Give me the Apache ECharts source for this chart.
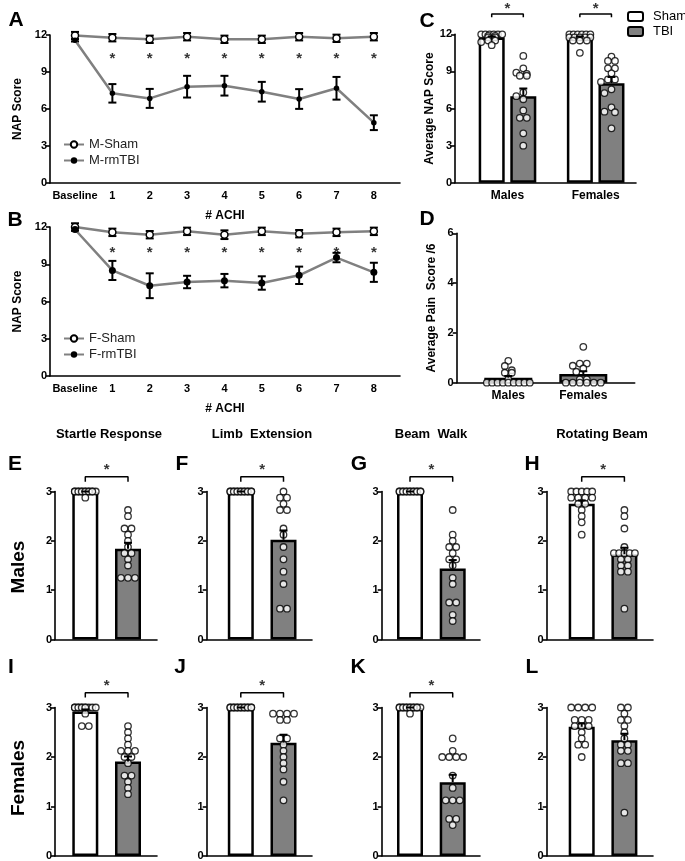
<!DOCTYPE html>
<html>
<head>
<meta charset="utf-8">
<script src="https://cdn.jsdelivr.net/npm/echarts@6/dist/echarts.min.js"></script>
<style>
  html, body { margin: 0; padding: 0; background: #fff; }
  #chart { width: 685px; height: 861px; }
</style>
</head>
<body>
<div id="chart"></div>
<script>
// ---------- data: NAP time course (A, B) ----------
const achi = ['Baseline', '1', '2', '3', '4', '5', '6', '7', '8'];
const mShamMean = [11.95, 11.78, 11.65, 11.86, 11.65, 11.65, 11.86, 11.73, 11.86];
const mShamSem = [0.3, 0.3, 0.3, 0.3, 0.3, 0.3, 0.3, 0.3, 0.3];
const mTbiMean = [11.57, 7.27, 6.86, 7.81, 7.89, 7.4, 6.81, 7.68, 4.89];
const mTbiSem = [0.1, 0.75, 0.77, 0.88, 0.8, 0.8, 0.8, 0.92, 0.6];
const fShamMean = [12.0, 11.57, 11.38, 11.65, 11.38, 11.65, 11.46, 11.57, 11.65];
const fShamSem = [0.3, 0.3, 0.3, 0.3, 0.35, 0.3, 0.3, 0.3, 0.3];
const fTbiMean = [11.8, 8.5, 7.27, 7.57, 7.68, 7.49, 8.11, 9.54, 8.35];
const fTbiSem = [0.1, 0.77, 1.0, 0.5, 0.54, 0.54, 0.7, 0.38, 0.77];
const achiSig = [1, 2, 3, 4, 5, 6, 7, 8];

// ---------- data: average NAP (C) ----------
const cShamM = [12, 12, 12, 12, 12, 12, 11.875, 11.875, 11.75, 11.75, 11.5, 11.5, 11.375, 11.125];
const cTbiM = [10.25, 9.25, 8.9, 8.8, 8.65, 8.65, 7.3, 7.0, 6.75, 5.85, 5.25, 5.25, 4.0, 3.0];
const cShamF = [12, 12, 12, 12, 12, 12, 11.75, 11.75, 11.75, 11.75, 11.75, 11.5, 11.5, 11.5, 10.5];
const cTbiF = [10.2, 9.85, 9.85, 9.25, 9.25, 8.85, 8.35, 8.35, 8.15, 7.55, 7.25, 6.1, 5.75, 5.7, 4.4];
const cMean = [11.75, 7.0, 11.72, 8.05];   // M-Sham, M-TBI, F-Sham, F-TBI
const cSem = [0.08, 0.62, 0.1, 0.5];

// ---------- data: pain score (D) ----------
const dMales = [0, 0, 0, 0, 0, 0, 0, 0, 0, 0.13, 0.4, 0.4, 0.5, 0.67, 0.88];
const dFemales = [0, 0, 0, 0, 0, 0, 0.13, 0.13, 0.44, 0.57, 0.68, 0.77, 0.77, 1.44];
const dMean = [0.2, 0.35];
const dSem = [0.07, 0.11];

// ---------- data: subscores (E-L), order: startle, limb, beam walk, rotating beam ----------
const startleShamM = [3, 3, 3, 3, 3, 3, 3, 3, 3, 3, 3, 3, 3, 2.875];
const startleTbiM = [2.625, 2.5, 2.25, 2.25, 2.125, 2, 1.875, 1.75, 1.75, 1.625, 1.5, 1.25, 1.25, 1.25];
const limbShamM = [3, 3, 3, 3, 3, 3, 3, 3, 3, 3, 3, 3, 3, 3];
const limbTbiM = [3, 2.875, 2.875, 2.75, 2.625, 2.625, 2.25, 2.125, 1.875, 1.625, 1.375, 1.125, 0.625, 0.625];
const beamShamM = [3, 3, 3, 3, 3, 3, 3, 3, 3, 3, 3, 3, 3, 3];
const beamTbiM = [2.625, 2.125, 2, 1.875, 1.875, 1.75, 1.625, 1.625, 1.5, 1.25, 1.125, 0.75, 0.75, 0.5, 0.375];
const rotShamM = [3, 3, 3, 3, 3, 2.875, 2.875, 2.875, 2.875, 2.75, 2.75, 2.625, 2.5, 2.375, 2.125];
const rotTbiM = [2.625, 2.5, 2.25, 1.875, 1.75, 1.75, 1.75, 1.75, 1.75, 1.625, 1.625, 1.5, 1.5, 1.375, 1.375, 0.625];

const startleShamF = [3, 3, 3, 3, 3, 3, 3, 3, 3, 3, 3, 2.875, 2.625, 2.625];
const startleTbiF = [2.625, 2.5, 2.375, 2.25, 2.125, 2.125, 2.125, 2, 2, 1.875, 1.625, 1.625, 1.5, 1.375, 1.25];
const limbShamF = [3, 3, 3, 3, 3, 3, 3, 3, 3, 3, 3, 3, 3, 3];
const limbTbiF = [2.875, 2.875, 2.875, 2.875, 2.75, 2.75, 2.375, 2.375, 2.25, 2.125, 2, 1.875, 1.75, 1.5, 1.125];
const beamShamF = [3, 3, 3, 3, 3, 3, 3, 3, 3, 3, 3, 3, 3, 2.875];
const beamTbiF = [2.375, 2.125, 2, 2, 2, 2, 1.625, 1.375, 1.125, 1.125, 1.125, 0.75, 0.75, 0.625];
const rotShamF = [3, 3, 3, 3, 2.75, 2.75, 2.75, 2.625, 2.625, 2.625, 2.5, 2.375, 2.25, 2.25, 2];
const rotTbiF = [3, 3, 2.875, 2.75, 2.75, 2.625, 2.5, 2.375, 2.25, 2.25, 2.125, 2.125, 1.875, 1.875, 0.875];

const maleShamMean = [2.99, 3.0, 3.0, 2.75];
const maleTbiMean = [1.84, 2.02, 1.44, 1.73];
const femaleShamMean = [2.92, 3.0, 2.99, 2.61];
const femaleTbiMean = [1.91, 2.29, 1.49, 2.34];
const maleShamSem = [0.01, 0, 0, 0.07];
const maleTbiSem = [0.12, 0.19, 0.17, 0.13];
const femaleShamSem = [0.04, 0, 0.01, 0.07];
const femaleTbiSem = [0.1, 0.16, 0.15, 0.13];
const maleSig = [true, true, true, true];
const femaleSig = [true, true, true, false];

// ---------- styling ----------
const FONT = 'Liberation Sans, Arial, Helvetica, sans-serif';
const GRAY = '#808080';

const grid = [], xAxis = [], yAxis = [], series = [];

function makeX(gi, min, max, ticks, fmt, name, nameGap) {
  return {
    gridIndex: gi, type: 'value', min: min, max: max,
    name: name, nameLocation: 'middle', nameGap: nameGap,
    nameTextStyle: {fontSize: 12, fontWeight: 'bold', color: '#000', fontFamily: FONT},
    axisLine: {show: true, onZero: false, lineStyle: {color: '#000', width: 1.6}},
    axisTick: {show: false},
    axisLabel: {show: ticks.length > 0, customValues: ticks, formatter: fmt, fontSize: 11, fontWeight: 'bold',
      color: '#000', margin: 7, fontFamily: FONT},
    splitLine: {show: false}
  };
}

function makeY(gi, max, interval, name, nameGap) {
  return {
    gridIndex: gi, type: 'value', min: 0, max: max, interval: interval,
    name: name, nameLocation: 'middle', nameGap: nameGap, nameRotate: 90,
    nameTextStyle: {fontSize: 12, fontWeight: 'bold', color: '#000', fontFamily: FONT},
    axisLine: {show: true, onZero: false, lineStyle: {color: '#000', width: 1.6}},
    axisTick: {show: true, length: 4, lineStyle: {color: '#000', width: 1.6}},
    axisLabel: {fontSize: 11, fontWeight: 'bold', color: '#000', margin: 3, fontFamily: FONT},
    splitLine: {show: false}
  };
}

// error bars: data rows [x, low, high]
function errSeries(gi, data, both, z) {
  return {
    type: 'custom', xAxisIndex: gi, yAxisIndex: gi, clip: false, silent: true, z: z,
    encode: {x: 0, y: [1, 2]},
    data: data,
    renderItem: function (params, api) {
      const x = api.value(0);
      const lo = api.coord([x, api.value(1)]);
      const hi = api.coord([x, api.value(2)]);
      const w = 4, st = {stroke: '#000', lineWidth: 2};
      const ch = [
        {type: 'line', shape: {x1: lo[0], y1: lo[1], x2: hi[0], y2: hi[1]}, style: st},
        {type: 'line', shape: {x1: hi[0] - w, y1: hi[1], x2: hi[0] + w, y2: hi[1]}, style: st}
      ];
      if (both) ch.push({type: 'line', shape: {x1: lo[0] - w, y1: lo[1], x2: lo[0] + w, y2: lo[1]}, style: st});
      return {type: 'group', children: ch};
    }
  };
}

function starSeries(gi, pts) {
  return {
    type: 'scatter', xAxisIndex: gi, yAxisIndex: gi, clip: false, silent: true, z: 6,
    symbolSize: 1, itemStyle: {color: 'rgba(0,0,0,0)'},
    label: {show: true, position: 'inside', formatter: '*', offset: [0, 4], fontSize: 15, fontWeight: 'bold',
      color: '#000', fontFamily: FONT},
    data: pts
  };
}

// simple beeswarm (GraphPad-like): equal values side by side (overlapping when crowded),
// others nudged sideways on overlap
function swarm(vals, cx, pxPerX, pxPerY, maxSpread) {
  const d = 7, thr = 5.6;
  const sorted = vals.slice().sort((a, b) => b - a);
  const placed = [];
  let i = 0;
  while (i < sorted.length) {
    let j = i;
    while (j < sorted.length && sorted[j] === sorted[i]) j++;
    const n = j - i, ypx = sorted[i] * pxPerY;
    if (n > 1) {
      const m = Math.min(n, Math.floor(maxSpread / 3.5) + 1);
      const s = Math.min(d, maxSpread / (m - 1));
      for (let k = 0; k < n; k++) placed.push([((k % m) - (m - 1) / 2) * s, ypx, sorted[i]]);
    } else {
      let best = 0, bestD = -1, done = false;
      for (let k = 0; k * d / 2 <= maxSpread / 2 && !done; k++) {
        for (const sgn of (k ? [-1, 1] : [1])) {
          const dx = sgn * k * d / 2;
          let m = Infinity;
          placed.forEach(p => { m = Math.min(m, Math.hypot(p[0] - dx, p[1] - ypx)); });
          if (m >= thr) { best = dx; done = true; break; }
          if (m > bestD) { bestD = m; best = dx; }
        }
      }
      placed.push([best, ypx, sorted[i]]);
    }
    i = j;
  }
  return placed.map(p => [cx + p[0] / pxPerX, p[2]]);
}

// A / B
function timePanel(gi, L, sham, shamSem, tbi, tbiSem, names, starY, tbiSize) {
  grid.push({left: L.left, top: L.top, width: L.width, height: L.height, containLabel: false, outerBoundsMode: 'none'});
  xAxis.push(makeX(gi, -0.67, 8.7, achi.map((_, i) => i), v => achi[Math.round(v)], '# ACHI', 27));
  yAxis.push(makeY(gi, 12, 3, 'NAP Score', 26));
  series.push(errSeries(gi, sham.map((v, i) => [i, v - shamSem[i], v + shamSem[i]]), true, 1));
  series.push(errSeries(gi, tbi.map((v, i) => [i, v - tbiSem[i], v + tbiSem[i]]), true, 1));
  series.push({
    type: 'line', name: names[0], xAxisIndex: gi, yAxisIndex: gi, z: 3, silent: true,
    data: sham.map((v, i) => [i, v]),
    symbol: 'circle', symbolSize: 7,
    itemStyle: {color: '#fff', borderColor: '#000', borderWidth: 1.5},
    lineStyle: {color: GRAY, width: 2.5}
  });
  series.push({
    type: 'line', name: names[1], xAxisIndex: gi, yAxisIndex: gi, z: 4, silent: true,
    data: tbi.map((v, i) => [i, v]),
    symbol: 'circle', symbolSize: tbiSize,
    itemStyle: {color: '#000', borderColor: '#000', borderWidth: 0},
    lineStyle: {color: GRAY, width: 2.5}
  });
  series.push(starSeries(gi, achiSig.map(i => [i, starY])));
}

// bar + scatter panels
function barPanel(gi, L, bars, yMax, yInt, yName, yGap, labels, brackets) {
  const xmin = L.firstX - (L.firstPx - L.left) / L.unit;
  const xmax = xmin + L.width / L.unit;
  grid.push({left: L.left, top: L.top, width: L.width, height: L.height, containLabel: false, outerBoundsMode: 'none'});
  xAxis.push(makeX(gi, xmin, xmax, labels.map(l => l[0]),
    v => { const f = labels.find(l => Math.abs(l[0] - v) < 1e-6); return f ? f[1] : ''; }, null, 0));
  xAxis[xAxis.length - 1].axisLabel.fontSize = 12;
  yAxis.push(makeY(gi, yMax, yInt, yName, yGap));
  const pxY = L.height / yMax;
  bars.forEach(b => series.push({
    type: 'bar', name: b.name, xAxisIndex: gi, yAxisIndex: gi, silent: true, z: 2,
    barWidth: L.barW, barGap: '-100%',
    data: [[b.x, b.mean]],
    itemStyle: {color: b.fill, borderColor: '#000', borderWidth: 2.5}
  }));
  bars.forEach(b => series.push({
    type: 'scatter', name: 'pts', xAxisIndex: gi, yAxisIndex: gi, silent: true, z: 3,
    symbol: 'circle', symbolSize: 6.5,
    itemStyle: {color: '#fff', borderColor: '#000', borderWidth: 1.3},
    data: swarm(b.pts, b.x, L.unit, pxY, L.barW - 5)
  }));
  series.push(errSeries(gi, bars.map(b => [b.x, b.mean, b.mean + b.sem]), false, 4));
  brackets.forEach(br => {
    series.push({
      type: 'line', xAxisIndex: gi, yAxisIndex: gi, clip: false, silent: true, z: 4,
      symbol: 'none', lineStyle: {color: '#000', width: 1.5},
      data: [[br[0], br[3]], [br[0], br[2]], [br[1], br[2]], [br[1], br[3]]]
    });
    series.push(starSeries(gi, [[(br[0] + br[1]) / 2, br[4]]]));
  });
}

// ---------- layout ----------
timePanel(0, {left: 50, top: 35, width: 350, height: 148}, mShamMean, mShamSem, mTbiMean, mTbiSem,
  ['M-Sham', 'M-rmTBI'], 10.38, 5.5);
timePanel(1, {left: 50, top: 227, width: 350, height: 149}, fShamMean, fShamSem, fTbiMean, fTbiSem,
  ['F-Sham', 'F-rmTBI'], 10.22, 7);

const cX = [1, 2, 3.79, 4.79];
barPanel(2, {left: 455, top: 34.3, width: 181, height: 148.5, firstX: 1, firstPx: 491.7, unit: 31.6, barW: 26},
  [
    {name: 'Sham', x: cX[0], mean: cMean[0], sem: cSem[0], fill: '#fff', pts: cShamM},
    {name: 'TBI', x: cX[1], mean: cMean[1], sem: cSem[1], fill: GRAY, pts: cTbiM},
    {name: 'Sham', x: cX[2], mean: cMean[2], sem: cSem[2], fill: '#fff', pts: cShamF},
    {name: 'TBI', x: cX[3], mean: cMean[3], sem: cSem[3], fill: GRAY, pts: cTbiF}
  ], 12, 3, 'Average NAP Score', 17,
  [[(cX[0] + cX[1]) / 2, 'Males'], [(cX[2] + cX[3]) / 2, 'Females']],
  [[cX[0], cX[1], 13.64, 13.37, 14.37], [cX[2], cX[3], 13.64, 13.37, 14.37]]);

barPanel(3, {left: 456.7, top: 233.3, width: 178, height: 149.4, firstX: 1, firstPx: 508.3, unit: 75, barW: 48},
  [
    {name: 'Males', x: 1, mean: dMean[0], sem: dSem[0], fill: '#fff', pts: dMales},
    {name: 'Females', x: 2, mean: dMean[1], sem: dSem[1], fill: GRAY, pts: dFemales}
  ], 6, 2, 'Average Pain  Score /6', 19,
  [[1, 'Males'], [2, 'Females']], []);

const colLeft = [55, 206.7, 381.7, 546.7];
const colSham = [85.3, 240.8, 410, 581.7];
const colEnd = [157, 312, 480, 653];
const rowTop = [491.5, 707.5];
const rowH = [148, 148.5];
const maleSets = [[startleShamM, startleTbiM], [limbShamM, limbTbiM], [beamShamM, beamTbiM], [rotShamM, rotTbiM]];
const femaleSets = [[startleShamF, startleTbiF], [limbShamF, limbTbiF], [beamShamF, beamTbiF], [rotShamF, rotTbiF]];

[0, 1].forEach(r => {
  const sets = r === 0 ? maleSets : femaleSets;
  const shamMean = r === 0 ? maleShamMean : femaleShamMean;
  const tbiMean = r === 0 ? maleTbiMean : femaleTbiMean;
  const shamSem = r === 0 ? maleShamSem : femaleShamSem;
  const tbiSem = r === 0 ? maleTbiSem : femaleTbiSem;
  const sig = r === 0 ? maleSig : femaleSig;
  for (let c = 0; c < 4; c++) {
    barPanel(4 + r * 4 + c,
      {left: colLeft[c], top: rowTop[r], width: colEnd[c] - colLeft[c], height: rowH[r],
        firstX: 1, firstPx: colSham[c], unit: 42.7, barW: 26},
      [
        {name: 'Sham', x: 1, mean: shamMean[c], sem: shamSem[c], fill: '#fff', pts: sets[c][0]},
        {name: 'TBI', x: 2, mean: tbiMean[c], sem: tbiSem[c], fill: GRAY, pts: sets[c][1]}
      ], 3, 1, null, 0, [],
      sig[c] ? [[1, 2, 3.3, 3.2, 3.52]] : []);
  }
});

// ---------- text ----------
const graphic = [];
[['A', 16, 20], ['B', 15, 220], ['C', 427, 21], ['D', 427, 219],
 ['E', 15, 464], ['F', 182, 464], ['G', 359, 464], ['H', 532, 464],
 ['I', 11, 667], ['J', 180, 667], ['K', 358, 667], ['L', 532, 667]].forEach(t => graphic.push({
  type: 'text', x: t[1], y: t[2], silent: true,
  style: {text: t[0], fontSize: 21, fontWeight: 'bold', fontFamily: FONT, fill: '#000', align: 'center', verticalAlign: 'middle'}
}));
[['Startle Response', 109, 434], ['Limb  Extension', 262, 434], ['Beam  Walk', 431, 434], ['Rotating Beam', 602, 434]]
  .forEach(t => graphic.push({
    type: 'text', x: t[1], y: t[2], silent: true,
    style: {text: t[0], fontSize: 13, fontWeight: 'bold', fontFamily: FONT, fill: '#000', align: 'center', verticalAlign: 'middle'}
  }));
[['Males', 19, 567], ['Females', 19, 778]].forEach(t => graphic.push({
  type: 'text', x: t[1], y: t[2], rotation: Math.PI / 2, silent: true,
  style: {text: t[0], fontSize: 19, fontWeight: 'bold', fontFamily: FONT, fill: '#000', align: 'center', verticalAlign: 'middle'}
}));

const legendText = {fontSize: 13, color: '#222', fontFamily: FONT};
const option = {
  animation: false,
  textStyle: {fontFamily: FONT},
  grid: grid,
  xAxis: xAxis,
  yAxis: yAxis,
  series: series,
  legend: [
    {data: ['M-Sham', 'M-rmTBI'], left: 63, top: 138, padding: 0, orient: 'vertical', itemWidth: 20, itemHeight: 8,
      itemGap: 3, selectedMode: false, textStyle: legendText},
    {data: ['F-Sham', 'F-rmTBI'], left: 63, top: 332, padding: 0, orient: 'vertical', itemWidth: 20, itemHeight: 8,
      itemGap: 3, selectedMode: false, textStyle: legendText},
    {data: ['Sham', 'TBI'], left: 627, top: 10, padding: 0, orient: 'vertical', itemWidth: 15, itemHeight: 9, itemGap: 2,
      selectedMode: false, itemStyle: {borderColor: '#000', borderWidth: 2},
      textStyle: Object.assign({}, legendText, {color: '#000', padding: [0, 0, 0, 5]})}
  ],
  graphic: {elements: graphic}
};

const chart = echarts.init(document.getElementById('chart'), null, {renderer: 'canvas'});
chart.setOption(option);
</script>
</body>
</html>
